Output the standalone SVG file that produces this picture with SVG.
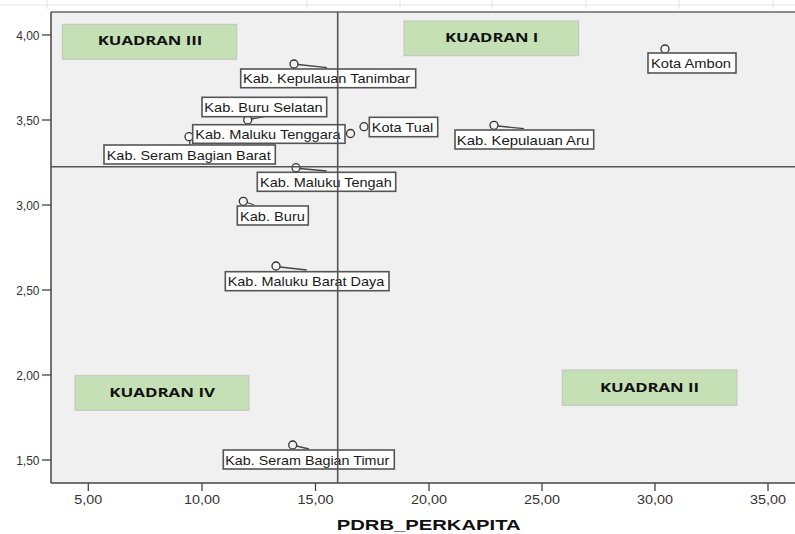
<svg xmlns="http://www.w3.org/2000/svg" width="795" height="534" viewBox="0 0 795 534">
<style>
.grid{stroke:#e4e4e4;stroke-width:1;fill:none}
.axis{stroke:#444;stroke-width:1.5;fill:none}
.ref{stroke:#555;stroke-width:1.6;fill:none}
.tick{stroke:#444;stroke-width:1.3}
.tl{font-family:"Liberation Sans",Arial,sans-serif;font-size:12px;fill:#333}
.box{fill:#fff;stroke:#555;stroke-width:1.6}
.lbl{font-family:"Liberation Sans",Arial,sans-serif;font-size:13px;fill:#1a1a1a}
.pt{fill:#f4f4f4;stroke:#333;stroke-width:1.3}
.lead{stroke:#444;stroke-width:1.3;fill:none}
.q{fill:#c5e0b4;stroke:#c2c2c2;stroke-width:1}
.qt{font-family:"Open Sans","Liberation Sans",sans-serif;font-size:13px;font-weight:bold;fill:#111}
.title{font-family:"Liberation Sans",Arial,sans-serif;font-size:15px;font-weight:bold;fill:#111}
</style>
<rect width="795" height="534" fill="#fff"/>
<g id="sheet-grid">
<line class="grid" x1="0" y1="5" x2="795" y2="5"/>
<line class="grid" x1="47" y1="0" x2="47" y2="9"/>
<line class="grid" x1="307" y1="0" x2="307" y2="9"/>
<line class="grid" x1="400" y1="0" x2="400" y2="9"/>
<line class="grid" x1="492" y1="0" x2="492" y2="9"/>
<line class="grid" x1="586" y1="0" x2="586" y2="9"/>
<line class="grid" x1="679" y1="0" x2="679" y2="9"/>
<line class="grid" x1="773" y1="0" x2="773" y2="9"/>
</g>
<g id="plot">
<rect x="51" y="12" width="744" height="471" fill="#f0f0f0"/>
<line x1="51" y1="12" x2="795" y2="12" stroke="#666" stroke-width="1.5"/>
<line class="axis" x1="51" y1="12" x2="51" y2="483"/>
<line class="axis" x1="51" y1="483" x2="795" y2="483"/>
</g>
<g id="y-axis">
<line class="tick" x1="42" y1="35" x2="51" y2="35"/>
<line class="tick" x1="42" y1="120" x2="51" y2="120"/>
<line class="tick" x1="42" y1="205" x2="51" y2="205"/>
<line class="tick" x1="42" y1="290" x2="51" y2="290"/>
<line class="tick" x1="42" y1="375" x2="51" y2="375"/>
<line class="tick" x1="42" y1="460" x2="51" y2="460"/>
<text class="tl" x="39.5" y="40" text-anchor="end">4,00</text>
<text class="tl" x="39.5" y="125" text-anchor="end">3,50</text>
<text class="tl" x="39.5" y="210" text-anchor="end">3,00</text>
<text class="tl" x="39.5" y="295" text-anchor="end">2,50</text>
<text class="tl" x="39.5" y="380" text-anchor="end">2,00</text>
<text class="tl" x="39.5" y="465" text-anchor="end">1,50</text>
</g>
<g id="x-axis">
<line class="tick" x1="88.3" y1="483" x2="88.3" y2="491"/>
<line class="tick" x1="202" y1="483" x2="202" y2="491"/>
<line class="tick" x1="315.5" y1="483" x2="315.5" y2="491"/>
<line class="tick" x1="429" y1="483" x2="429" y2="491"/>
<line class="tick" x1="542" y1="483" x2="542" y2="491"/>
<line class="tick" x1="655" y1="483" x2="655" y2="491"/>
<line class="tick" x1="768" y1="483" x2="768" y2="491"/>
<text class="tl" x="88.3" y="504" text-anchor="middle" textLength="28" lengthAdjust="spacingAndGlyphs">5,00</text>
<text class="tl" x="202" y="504" text-anchor="middle" textLength="36" lengthAdjust="spacingAndGlyphs">10,00</text>
<text class="tl" x="315.5" y="504" text-anchor="middle" textLength="36" lengthAdjust="spacingAndGlyphs">15,00</text>
<text class="tl" x="429" y="504" text-anchor="middle" textLength="36" lengthAdjust="spacingAndGlyphs">20,00</text>
<text class="tl" x="542" y="504" text-anchor="middle" textLength="36" lengthAdjust="spacingAndGlyphs">25,00</text>
<text class="tl" x="655" y="504" text-anchor="middle" textLength="36" lengthAdjust="spacingAndGlyphs">30,00</text>
<text class="tl" x="768" y="504" text-anchor="middle" textLength="36" lengthAdjust="spacingAndGlyphs">35,00</text>
<text class="title" x="336.7" y="530" textLength="184" lengthAdjust="spacingAndGlyphs">PDRB_PERKAPITA</text>
</g>
<g id="quadrant-boxes">
<g id="q3"><rect class="q" x="62.3" y="24.3" width="174.4" height="35"/><text class="qt" x="97.7" y="45" textLength="104.6" lengthAdjust="spacingAndGlyphs">KUADRAN III</text></g>
<g id="q1"><rect class="q" x="404" y="21" width="174.7" height="34.7"/><text class="qt" x="445" y="41.7" textLength="93.3" lengthAdjust="spacingAndGlyphs">KUADRAN I</text></g>
<g id="q4"><rect class="q" x="75" y="375.7" width="174" height="34.6"/><text class="qt" x="109.3" y="396.7" textLength="105.7" lengthAdjust="spacingAndGlyphs">KUADRAN IV</text></g>
<g id="q2"><rect class="q" x="562.3" y="370" width="174.7" height="35.3"/><text class="qt" x="600" y="391.7" textLength="99" lengthAdjust="spacingAndGlyphs">KUADRAN II</text></g>
</g>
<g id="connectors">
<line class="lead" x1="298" y1="64.5" x2="327" y2="67.7"/>
<line class="lead" x1="251.5" y1="119" x2="264" y2="116.7"/>
<line class="lead" x1="189.5" y1="140.5" x2="190" y2="145"/>
<line class="lead" x1="498" y1="126" x2="524" y2="128.7"/>
<line class="lead" x1="300" y1="168.5" x2="326.7" y2="171"/>
<line class="lead" x1="247" y1="202.5" x2="254" y2="205"/>
<line class="lead" x1="280" y1="267" x2="306.7" y2="270"/>
<line class="lead" x1="296.5" y1="446" x2="309" y2="449"/>
</g>
<g id="kota-ambon"><circle class="pt" cx="665" cy="49" r="4"/><rect class="box" x="648" y="53" width="88" height="20"/><text class="lbl" x="651" y="68.3" textLength="80" lengthAdjust="spacingAndGlyphs">Kota Ambon</text></g>
<g id="kab-kepulauan-tanimbar"><circle class="pt" cx="294" cy="64" r="4"/><rect class="box" x="240.7" y="69" width="175" height="18.7"/><text class="lbl" x="243" y="83.3" textLength="167" lengthAdjust="spacingAndGlyphs">Kab. Kepulauan Tanimbar</text></g>
<g id="kab-buru-selatan"><circle class="pt" cx="247.7" cy="120" r="4"/><rect class="box" x="202" y="97.3" width="124.7" height="19.4"/><text class="lbl" x="204.3" y="112.3" textLength="118.4" lengthAdjust="spacingAndGlyphs">Kab. Buru Selatan</text></g>
<g id="kab-seram-bagian-barat"><circle class="pt" cx="189" cy="136.7" r="4"/><rect class="box" x="104" y="145" width="171.3" height="19"/><text class="lbl" x="106.7" y="159.5" textLength="164" lengthAdjust="spacingAndGlyphs">Kab. Seram Bagian Barat</text></g>
<g id="kab-maluku-tenggara"><circle class="pt" cx="350.5" cy="133.5" r="4"/><rect class="box" x="192.7" y="124.7" width="152.3" height="18.6"/><text class="lbl" x="195.3" y="139" textLength="145.4" lengthAdjust="spacingAndGlyphs">Kab. Maluku Tenggara</text></g>
<g id="kota-tual"><circle class="pt" cx="364" cy="126.7" r="4"/><rect class="box" x="369.3" y="117.3" width="68.4" height="19.4"/><text class="lbl" x="371.7" y="132" textLength="61.6" lengthAdjust="spacingAndGlyphs">Kota Tual</text></g>
<g id="kab-kepulauan-aru"><circle class="pt" cx="494" cy="125.3" r="4"/><rect class="box" x="455" y="130" width="138.7" height="19"/><text class="lbl" x="456.7" y="144.5" textLength="132.6" lengthAdjust="spacingAndGlyphs">Kab. Kepulauan Aru</text></g>
<g id="kab-maluku-tengah"><circle class="pt" cx="296" cy="167.7" r="4"/><rect class="box" x="257.3" y="172.3" width="138.4" height="19"/><text class="lbl" x="260" y="186.8" textLength="131.7" lengthAdjust="spacingAndGlyphs">Kab. Maluku Tengah</text></g>
<g id="kab-buru"><circle class="pt" cx="243.3" cy="201.3" r="4"/><rect class="box" x="237.3" y="206" width="71" height="19"/><text class="lbl" x="240" y="220.5" textLength="65" lengthAdjust="spacingAndGlyphs">Kab. Buru</text></g>
<g id="kab-maluku-barat-daya"><circle class="pt" cx="276" cy="266" r="4"/><rect class="box" x="225.3" y="271.7" width="163.7" height="19"/><text class="lbl" x="227.7" y="286.2" textLength="156.6" lengthAdjust="spacingAndGlyphs">Kab. Maluku Barat Daya</text></g>
<g id="kab-seram-bagian-timur"><circle class="pt" cx="292.7" cy="445" r="4"/><rect class="box" x="223.3" y="450" width="171" height="19"/><text class="lbl" x="225.3" y="464.5" textLength="164" lengthAdjust="spacingAndGlyphs">Kab. Seram Bagian Timur</text></g>
<g id="reference-lines">
<line class="ref" x1="337.7" y1="12" x2="337.7" y2="483"/>
<line class="ref" x1="51" y1="166.7" x2="795" y2="166.7"/>
</g>
</svg>
